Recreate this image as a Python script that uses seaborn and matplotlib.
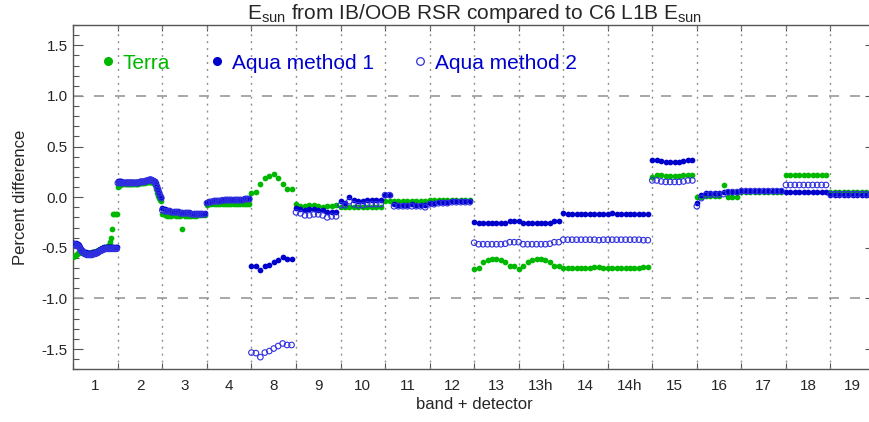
import matplotlib
matplotlib.use("Agg")
import matplotlib.pyplot as plt
from matplotlib.ticker import MultipleLocator, FixedLocator, FixedFormatter, FormatStrFormatter
from matplotlib.lines import Line2D
import seaborn as sns
import pandas as pd

# Band labels along the x axis
bands = ["1", "2", "3", "4", "8", "9", "10", "11", "12", "13", "13h",
         "14", "14h", "15", "16", "17", "18", "19"]

# Percent difference per detector, one list per band
terra = [
    [-0.59, -0.58, -0.57, -0.56, -0.55, -0.55, -0.54, -0.54, -0.54, -0.54,
     -0.54, -0.55, -0.55, -0.55, -0.55, -0.55, -0.55, -0.54, -0.54, -0.54,
     -0.53, -0.53, -0.52, -0.52, -0.51, -0.51, -0.50, -0.50, -0.49, -0.49,
     -0.49, -0.48, -0.47, -0.44, -0.40, -0.31, -0.17, -0.17, -0.17, -0.17],
    [0.10, 0.11, 0.12, 0.13, 0.13, 0.13, 0.13, 0.13, 0.13, 0.13,
     0.13, 0.13, 0.13, 0.13, 0.13, 0.13, 0.13, 0.13, 0.13, 0.14,
     0.14, 0.14, 0.14, 0.14, 0.14, 0.15, 0.15, 0.15, 0.15, 0.15,
     0.15, 0.15, 0.14, 0.12, 0.08, 0.04, 0.01, -0.01, -0.03, -0.04],
    [-0.17, -0.18, -0.19, -0.19, -0.19, -0.18, -0.19, -0.19, -0.19, -0.31,
     -0.19, -0.19, -0.19, -0.19, -0.19, -0.19, -0.18, -0.18, -0.18, -0.18],
    [-0.08, -0.07, -0.07, -0.07, -0.07, -0.07, -0.07, -0.07, -0.07, -0.07,
     -0.07, -0.07, -0.07, -0.07, -0.07, -0.07, -0.07, -0.07, -0.07, -0.07],
    [0.04, 0.05, 0.13, 0.19, 0.21, 0.23, 0.19, 0.13, 0.08, 0.08],
    [-0.07, -0.09, -0.09, -0.08, -0.08, -0.09, -0.10, -0.09, -0.09, -0.08],
    [-0.10, -0.10, -0.10, -0.10, -0.10, -0.10, -0.10, -0.10, -0.10, -0.10],
    [-0.035, -0.035, -0.035, -0.035, -0.035, -0.035, -0.035, -0.035, -0.035, -0.035],
    [-0.025, -0.025, -0.025, -0.025, -0.025, -0.025, -0.025, -0.025, -0.025, -0.025],
    [-0.71, -0.70, -0.64, -0.62, -0.61, -0.61, -0.62, -0.64, -0.68, -0.68],
    [-0.71, -0.68, -0.64, -0.62, -0.61, -0.61, -0.62, -0.64, -0.68, -0.68],
    [-0.70, -0.70, -0.70, -0.70, -0.70, -0.70, -0.70, -0.69, -0.69, -0.70],
    [-0.70, -0.70, -0.70, -0.70, -0.70, -0.70, -0.70, -0.70, -0.69, -0.69],
    [0.20, 0.22, 0.22, 0.21, 0.21, 0.21, 0.21, 0.22, 0.22, 0.22],
    [0.00, 0.00, 0.015, 0.015, 0.015, 0.015, 0.12, 0.005, 0.005, 0.005],
    [0.05, 0.05, 0.05, 0.05, 0.05, 0.05, 0.05, 0.05, 0.05, 0.05],
    [0.22, 0.22, 0.22, 0.22, 0.22, 0.22, 0.22, 0.22, 0.22, 0.22],
    [0.055, 0.055, 0.055, 0.055, 0.055, 0.055, 0.055, 0.055, 0.055, 0.055],
]

aqua_m1 = [
    [-0.45, -0.45, -0.45, -0.46, -0.46, -0.47, -0.49, -0.51, -0.52, -0.53,
     -0.54, -0.54, -0.55, -0.55, -0.55, -0.55, -0.55, -0.55, -0.54, -0.54,
     -0.54, -0.53, -0.53, -0.52, -0.51, -0.51, -0.50, -0.50, -0.49, -0.49,
     -0.49, -0.49, -0.49, -0.49, -0.49, -0.49, -0.49, -0.49, -0.49, -0.49],
    [0.16, 0.16, 0.16, 0.16, 0.15, 0.15, 0.15, 0.15, 0.15, 0.15,
     0.15, 0.15, 0.15, 0.15, 0.15, 0.15, 0.15, 0.15, 0.15, 0.15,
     0.16, 0.16, 0.16, 0.16, 0.16, 0.17, 0.17, 0.17, 0.18, 0.18,
     0.18, 0.17, 0.17, 0.16, 0.14, 0.11, 0.08, 0.05, 0.02, 0.00],
    [-0.11, -0.12, -0.13, -0.13, -0.14, -0.14, -0.14, -0.14, -0.15, -0.15,
     -0.15, -0.15, -0.15, -0.16, -0.16, -0.16, -0.16, -0.16, -0.16, -0.16],
    [-0.05, -0.04, -0.04, -0.03, -0.03, -0.03, -0.03, -0.03, -0.02, -0.02,
     -0.02, -0.02, -0.02, -0.02, -0.02, -0.02, -0.02, -0.01, -0.01, -0.01],
    [-0.68, -0.68, -0.72, -0.68, -0.67, -0.64, -0.62, -0.59, -0.61, -0.61],
    [-0.11, -0.12, -0.13, -0.12, -0.12, -0.13, -0.13, -0.15, -0.15, -0.15],
    [-0.04, -0.06, 0.00, -0.03, -0.04, -0.04, -0.03, -0.03, -0.03, -0.03],
    [0.02, 0.02, -0.07, -0.08, -0.08, -0.08, -0.07, -0.08, -0.08, -0.08],
    [-0.06, -0.06, -0.05, -0.05, -0.05, -0.04, -0.04, -0.04, -0.04, -0.04],
    [-0.245, -0.26, -0.26, -0.26, -0.26, -0.26, -0.26, -0.255, -0.235, -0.235],
    [-0.235, -0.26, -0.26, -0.26, -0.26, -0.26, -0.26, -0.255, -0.235, -0.235],
    [-0.16, -0.165, -0.165, -0.165, -0.165, -0.165, -0.165, -0.165, -0.17, -0.165],
    [-0.165, -0.16, -0.165, -0.165, -0.165, -0.165, -0.165, -0.165, -0.17, -0.17],
    [0.37, 0.37, 0.36, 0.35, 0.35, 0.35, 0.35, 0.36, 0.37, 0.37],
    [-0.06, 0.02, 0.045, 0.045, 0.045, 0.045, 0.055, 0.055, 0.055, 0.055],
    [0.06, 0.06, 0.06, 0.06, 0.06, 0.06, 0.06, 0.06, 0.06, 0.06],
    [0.05, 0.05, 0.05, 0.05, 0.05, 0.05, 0.05, 0.05, 0.05, 0.05],
    [0.02, 0.02, 0.02, 0.02, 0.02, 0.02, 0.02, 0.02, 0.02, 0.02],
]

aqua_m2 = [
    [-0.47, -0.47, -0.47, -0.48, -0.48, -0.49, -0.51, -0.53, -0.54, -0.55,
     -0.56, -0.56, -0.57, -0.57, -0.57, -0.57, -0.57, -0.57, -0.56, -0.56,
     -0.56, -0.55, -0.55, -0.54, -0.53, -0.53, -0.52, -0.52, -0.51, -0.51,
     -0.51, -0.51, -0.51, -0.51, -0.51, -0.51, -0.51, -0.51, -0.51, -0.51],
    [0.14, 0.14, 0.14, 0.14, 0.14, 0.14, 0.14, 0.14, 0.14, 0.14,
     0.14, 0.14, 0.14, 0.14, 0.14, 0.14, 0.14, 0.14, 0.14, 0.14,
     0.15, 0.15, 0.15, 0.15, 0.15, 0.16, 0.16, 0.16, 0.17, 0.17,
     0.17, 0.16, 0.16, 0.15, 0.13, 0.10, 0.07, 0.04, 0.01, -0.01],
    [-0.13, -0.14, -0.14, -0.14, -0.15, -0.15, -0.15, -0.15, -0.16, -0.16,
     -0.16, -0.16, -0.16, -0.17, -0.17, -0.17, -0.17, -0.17, -0.17, -0.17],
    [-0.06, -0.05, -0.05, -0.04, -0.04, -0.04, -0.04, -0.03, -0.03, -0.03,
     -0.03, -0.03, -0.03, -0.03, -0.03, -0.03, -0.03, -0.02, -0.02, -0.02],
    [-1.535, -1.54, -1.58, -1.535, -1.52, -1.495, -1.47, -1.445, -1.46, -1.46],
    [-0.15, -0.16, -0.18, -0.18, -0.17, -0.17, -0.18, -0.20, -0.19, -0.19],
    [-0.08, -0.08, -0.04, -0.07, -0.08, -0.08, -0.07, -0.07, -0.07, -0.07],
    [0.02, 0.02, -0.09, -0.09, -0.09, -0.09, -0.09, -0.09, -0.09, -0.10],
    [-0.07, -0.07, -0.06, -0.06, -0.06, -0.05, -0.05, -0.05, -0.05, -0.05],
    [-0.45, -0.465, -0.465, -0.465, -0.465, -0.465, -0.465, -0.46, -0.445, -0.445],
    [-0.445, -0.465, -0.465, -0.465, -0.465, -0.465, -0.465, -0.46, -0.445, -0.445],
    [-0.42, -0.42, -0.42, -0.42, -0.42, -0.42, -0.42, -0.42, -0.425, -0.42],
    [-0.42, -0.42, -0.42, -0.42, -0.42, -0.42, -0.42, -0.42, -0.425, -0.425],
    [0.165, 0.165, 0.155, 0.15, 0.15, 0.15, 0.15, 0.155, 0.165, 0.165],
    [-0.09, -0.01, 0.02, 0.025, 0.025, 0.025, 0.03, 0.05, 0.05, 0.05],
    [0.06, 0.06, 0.06, 0.06, 0.06, 0.06, 0.06, 0.06, 0.06, 0.06],
    [0.12, 0.12, 0.12, 0.12, 0.12, 0.12, 0.12, 0.12, 0.12, 0.12],
    [0.03, 0.03, 0.03, 0.03, 0.03, 0.03, 0.03, 0.03, 0.03, 0.03],
]

series_names = ["Terra", "Aqua method 1", "Aqua method 2"]
series_values = [terra, aqua_m1, aqua_m2]

# Long table: each detector sits at band index + detector / n_detectors
rows = []
for name, per_band in zip(series_names, series_values):
    for k, vals in enumerate(per_band):
        n = len(vals)
        for i, v in enumerate(vals):
            rows.append({"series": name, "pos": k + i / n, "diff": v})
df = pd.DataFrame(rows)

sns.set_style("white")
plt.rcParams["font.family"] = ["Liberation Sans", "DejaVu Sans"]
plt.rcParams["mathtext.fontset"] = "custom"
plt.rcParams["mathtext.rm"] = "Liberation Sans"
plt.rcParams["mathtext.it"] = "Liberation Sans"

GREEN = "#00b800"
BLUE = "#0000cc"
BLUE_OPEN = "#3030e0"

fig = plt.figure(figsize=(8.69, 4.22), dpi=100)
ax = fig.add_axes([73.3 / 869, 52.7 / 422, 801.7 / 869, 344.3 / 422])

# reference lines and band separators
for yv in (1.0, -1.0):
    ax.axhline(yv, color="#9a9a9a", lw=1.2, dashes=(6, 6.6), zorder=1)
for b in range(1, len(bands)):
    ax.axvline(b, color="#8c8c8c", lw=1.0, dashes=(1.4, 3.6), zorder=1)

sns.scatterplot(data=df[df.series == "Terra"], x="pos", y="diff", ax=ax,
                color=GREEN, s=17, linewidth=0, zorder=3, legend=False)
sns.scatterplot(data=df[df.series == "Aqua method 1"], x="pos", y="diff", ax=ax,
                color=BLUE, s=17, linewidth=0, zorder=4, legend=False)
sns.scatterplot(data=df[df.series == "Aqua method 2"], x="pos", y="diff", ax=ax,
                facecolors="none", edgecolors=BLUE_OPEN, s=16, linewidth=0.8,
                zorder=5, legend=False)

ax.set_xlim(0, len(bands))
ax.set_ylim(-1.7, 1.7)

# x: tick marks on band boundaries, labels at band centres
ax.xaxis.set_major_locator(FixedLocator(range(len(bands) + 1)))
ax.xaxis.set_major_formatter(FixedFormatter([""] * (len(bands) + 1)))
ax.xaxis.set_minor_locator(FixedLocator([k + 0.5 for k in range(len(bands))]))
ax.xaxis.set_minor_formatter(FixedFormatter(bands))
ax.tick_params(axis="x", which="major", direction="in", length=4, width=0.8,
               top=True, bottom=True, color="#555555")
ax.tick_params(axis="x", which="minor", length=0, pad=7, labelsize=11)

ax.yaxis.set_major_locator(MultipleLocator(0.5))
ax.yaxis.set_minor_locator(MultipleLocator(0.1))
ax.yaxis.set_major_formatter(FormatStrFormatter("%.1f"))
ax.tick_params(axis="y", which="major", direction="in", length=7, width=0.8,
               left=True, right=True, labelsize=11, pad=4, color="#555555")
ax.tick_params(axis="y", which="minor", direction="in", length=4, width=0.8,
               left=True, right=True, color="#555555")

for sp in ax.spines.values():
    sp.set_color("#555555")
    sp.set_linewidth(1.0)

ax.set_xlabel("band + detector", fontsize=12, labelpad=3)
ax.set_ylabel("Percent difference", fontsize=12, labelpad=10)
ax.set_title(r"E$_{\mathrm{sun}}$ from IB/OOB RSR compared to C6 L1B E$_{\mathrm{sun}}$",
             fontsize=15, pad=4)

handles = [
    Line2D([], [], ls="none", marker="o", ms=5.5, mfc=GREEN, mec=GREEN),
    Line2D([], [], ls="none", marker="o", ms=5.5, mfc=BLUE, mec=BLUE),
    Line2D([], [], ls="none", marker="o", ms=5.5, mfc="none", mec=BLUE_OPEN, mew=0.9),
]
ax.legend(handles, series_names, loc="center left", bbox_to_anchor=(0.02, 0.889),
          ncol=3, frameon=False, fontsize=15, handletextpad=0.2,
          columnspacing=1.75, handlelength=1.0, borderaxespad=0,
          labelcolor=[GREEN, BLUE, BLUE])

fig.savefig("out.png", dpi=100)
